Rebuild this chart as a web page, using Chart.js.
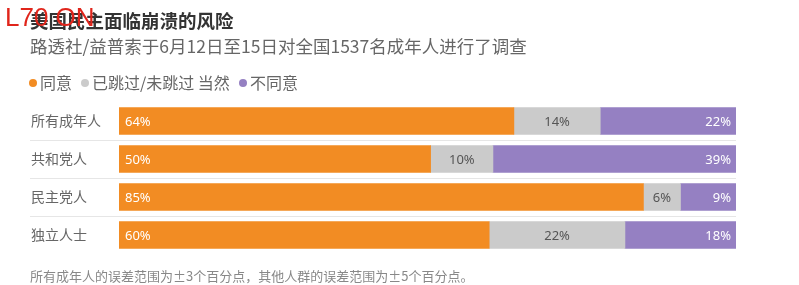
<!DOCTYPE html>
<html>
<head>
<meta charset="utf-8">
<script src="https://cdn.jsdelivr.net/npm/chart.js@4/dist/chart.umd.min.js"></script>
<style>
  html, body { margin: 0; padding: 0; background: #fff; }
  body { width: 799px; height: 285px; position: relative; overflow: hidden;
         font-family: "Noto Sans CJK SC", "Noto Sans", sans-serif; }
  #wrap { position: absolute; left: 0; top: 0; width: 799px; height: 285px; }
  .txt { position: absolute; white-space: nowrap; }
  #title { left: 30px; top: 7px; font-size: 18.5px; font-weight: bold; color: #333; }
  #sub { left: 30px; top: 33px; font-size: 17.5px; color: #666; }
  #legend { left: 29px; top: 70px; font-size: 16px; color: #666; }
  #legend span.dot { display: inline-block; width: 8px; height: 8px; border-radius: 50%;
                     margin-right: 3px; vertical-align: 2px; }
  #legend span.item { margin-right: 9px; }
  #note { left: 30px; top: 266px; font-size: 13px; color: #888; }
  #mark { left: 5px; top: 2px; font-family: "Liberation Sans", sans-serif; font-size: 26px;
          color: #e0251b; font-weight: normal; }
</style>
</head>
<body>
<div id="wrap"><canvas id="chart" width="799" height="285"></canvas></div>
<div class="txt" id="title">美国民主面临崩溃的风险</div>
<div class="txt" id="sub">路透社/益普索于6月12日至15日对全国1537名成年人进行了调查</div>
<div class="txt" id="legend"></div>
<div class="txt" id="note">所有成年人的误差范围为±3个百分点，其他人群的误差范围为±5个百分点。</div>
<div class="txt" id="mark">L70 ON</div>
<script>
// 数据
const groups    = ['所有成年人', '共和党人', '民主党人', '独立人士'];
const agree     = [64, 50, 85, 60];
const skipped   = [14, 10, 6, 22];
const disagree  = [22, 39, 9, 18];
const seriesNames = ['同意', '已跳过/未跳过 当然', '不同意'];
const colors    = ['#f28c23', '#cbcbcb', '#9580c2'];
const labelColors = ['#fff', '#555', '#fff'];

// 每行按合计归一化（原图每行都撑满宽度）
const totals = groups.map((_, i) => agree[i] + skipped[i] + disagree[i]);
const norm = arr => arr.map((v, i) => v / totals[i] * 100);

// 图例
document.getElementById('legend').innerHTML = seriesNames.map((n, i) =>
  `<span class="item"><span class="dot" style="background:${colors[i]}"></span>${n}</span>`).join('');

const rowLines = {
  id: 'rowLines',
  beforeDatasetsDraw(chart) {
    const { ctx, chartArea, scales: { y } } = chart;
    ctx.save();
    ctx.strokeStyle = '#e6e6e6';
    ctx.lineWidth = 1;
    for (let i = 0; i < groups.length - 1; i++) {
      const yy = Math.round((y.getPixelForValue(i) + y.getPixelForValue(i + 1)) / 2) + 0.5;
      ctx.beginPath();
      ctx.moveTo(30, yy);
      ctx.lineTo(chartArea.right, yy);
      ctx.stroke();
    }
    ctx.restore();
  },
};

const barLabels = {
  id: 'barLabels',
  afterDatasetsDraw(chart) {
    const { ctx } = chart;
    ctx.save();
    ctx.font = '13px "Noto Sans", sans-serif';
    ctx.textBaseline = 'middle';
    chart.data.datasets.forEach((ds, di) => {
      chart.getDatasetMeta(di).data.forEach((bar, i) => {
        const raw = ds.raw[i];
        const { x, base, y } = bar.getProps(['x', 'base', 'y'], true);
        ctx.fillStyle = labelColors[di];
        if (di === 0) { ctx.textAlign = 'left'; ctx.fillText(raw + '%', base + 6, y + 1); }
        else if (di === 1) { ctx.textAlign = 'center'; ctx.fillText(raw + '%', (x + base) / 2, y + 1); }
        else { ctx.textAlign = 'right'; ctx.fillText(raw + '%', x - 5, y + 1); }
      });
    });
    ctx.restore();
  },
};

const raws = [agree, skipped, disagree];
new Chart(document.getElementById('chart'), {
  type: 'bar',
  data: {
    labels: groups,
    datasets: raws.map((arr, i) => ({
      label: seriesNames[i],
      data: norm(arr),
      raw: arr,
      backgroundColor: colors[i],
      borderWidth: 0,
      barThickness: 27,
    })),
  },
  options: {
    indexAxis: 'y',
    responsive: false,
    animation: false,
    layout: { padding: { top: 102, bottom: 31, left: 31, right: 63 } },
    plugins: { legend: { display: false }, tooltip: { enabled: false } },
    scales: {
      x: { stacked: true, min: 0, max: 100, display: false },
      y: {
        stacked: true,
        grid: { display: false },
        border: { display: false },
        afterFit: s => { s.width = 88; },
        ticks: {
          crossAlign: 'far',
          padding: 0,
          color: '#666',
          font: { size: 14, family: '"Noto Sans CJK SC", sans-serif' },
        },
      },
    },
  },
  plugins: [rowLines, barLabels],
});
</script>
</body>
</html>
